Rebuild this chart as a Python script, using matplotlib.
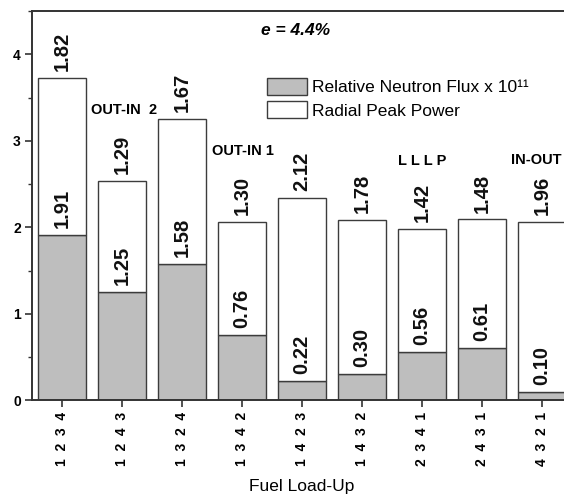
import matplotlib
matplotlib.use("Agg")
import matplotlib.pyplot as plt
from matplotlib.patches import Patch
from matplotlib.ticker import MultipleLocator

plt.rcParams['font.family'] = ['Liberation Sans', 'DejaVu Sans']

# fuel load-up orders and the two stacked quantities
loadups = ['1 2 3 4', '1 2 4 3', '1 3 2 4', '1 3 4 2', '1 4 2 3',
           '1 4 3 2', '2 3 4 1', '2 4 3 1', '4 3 2 1']
flux = [1.91, 1.25, 1.58, 0.76, 0.22, 0.30, 0.56, 0.61, 0.10]
peak = [1.82, 1.29, 1.67, 1.30, 2.12, 1.78, 1.42, 1.48, 1.96]

gray = '#bebebe'
edge = '#3c3c3c'

fig = plt.figure(figsize=(5.64, 4.99), dpi=100)
ax = fig.add_axes([32 / 564, 1 - 400.3 / 499, 540 / 564, 389.3 / 499])

x = list(range(1, len(loadups) + 1))
ax.bar(x, flux, width=0.8, color=gray, edgecolor=edge, linewidth=1.0, zorder=2)
ax.bar(x, peak, width=0.8, bottom=flux, color='white', edgecolor=edge,
       linewidth=1.0, zorder=2)

for xi, f, p in zip(x, flux, peak):
    ax.annotate('%.2f' % f, (xi, f), xytext=(0, 5), textcoords='offset points',
                rotation=90, ha='center', va='bottom', fontsize=14.5,
                fontweight='bold', color='#111111')
    ax.annotate('%.2f' % p, (xi, f + p), xytext=(0, 5), textcoords='offset points',
                rotation=90, ha='center', va='bottom', fontsize=14.5,
                fontweight='bold', color='#111111')

# scheme names
ax.text(2.03, 3.36, 'OUT-IN  2', ha='center', va='center', fontsize=10.5,
        fontweight='bold')
ax.text(4.02, 2.88, 'OUT-IN 1', ha='center', va='center', fontsize=10.5,
        fontweight='bold')
ax.text(7.0, 2.77, 'L L L P', ha='center', va='center', fontsize=10.5,
        fontweight='bold')
ax.text(8.9, 2.78, 'IN-OUT', ha='center', va='center', fontsize=10.5,
        fontweight='bold')
ax.text(4.9, 4.28, 'e = 4.4%', ha='center', va='center', fontsize=12.5,
        fontweight='bold', fontstyle='italic')

handles = [Patch(facecolor=gray, edgecolor=edge, linewidth=1.0),
           Patch(facecolor='white', edgecolor=edge, linewidth=1.0)]
ax.legend(handles, ['Relative Neutron Flux x 10\u00b9\u00b9', 'Radial Peak Power'],
          loc='upper left', bbox_to_anchor=(258 / 564, 1 - 69 / 499),
          bbox_transform=fig.transFigure, frameon=False, borderpad=0,
          handlelength=2.3, handleheight=1.15, handletextpad=0.3,
          labelspacing=0.35, fontsize=12.5)

ax.set_xlim(0.5, 9.5)
ax.set_ylim(0, 4.5)
ax.set_xticks(x)
ax.set_xticklabels([s.replace(' ', '  ') for s in loadups], rotation=90,
                   fontsize=10, fontweight='bold')
ax.yaxis.set_major_locator(MultipleLocator(1))
ax.yaxis.set_minor_locator(MultipleLocator(0.5))
for lab in ax.get_yticklabels():
    lab.set_fontweight('bold')
    lab.set_fontsize(10)
ax.tick_params(axis='both', which='major', direction='out', length=5,
               width=1.2, color='#333333', pad=3)
ax.tick_params(axis='y', which='minor', direction='out', length=3, width=1.0,
               color='#333333')
for sp in ax.spines.values():
    sp.set_linewidth(1.4)
    sp.set_color('#333333')

ax.set_xlabel('Fuel Load-Up', fontsize=12.5, labelpad=10)

fig.savefig('out.png', dpi=100)
